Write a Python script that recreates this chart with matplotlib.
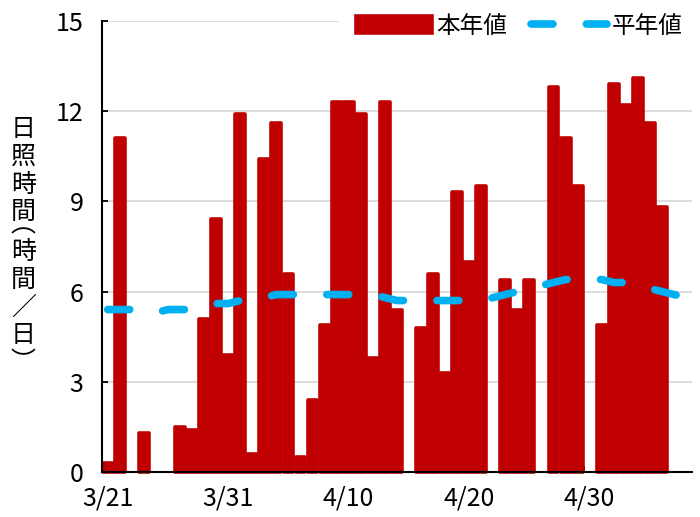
import numpy as np
import matplotlib
matplotlib.use("Agg")
import matplotlib.pyplot as plt
import matplotlib.transforms as mtransforms

plt.rcParams["font.family"] = ["Noto Sans CJK JP", "DejaVu Sans"]
plt.rcParams["lines.scale_dashes"] = False

# ── data (one value per day, starting 3/21) ───────────────────────────────────
sunshine = [0.3, 11.1, 0.0, 1.3, 0.0, 0.0, 1.5, 1.4, 5.1, 8.4,
            3.9, 11.9, 0.6, 10.4, 11.6, 6.6, 0.5, 2.4, 4.9, 12.3,
            12.3, 11.9, 3.8, 12.3, 5.4, 0.0, 4.8, 6.6, 3.3, 9.3,
            7.0, 9.5, 0.0, 6.4, 5.4, 6.4, 0.0, 12.8, 11.1, 9.5,
            0.0, 4.9, 12.9, 12.2, 13.1, 11.6, 8.8, np.nan, np.nan]
normal = [5.4, 5.4, 5.4, 5.4, 5.3, 5.4, 5.4, 5.4, 5.5, 5.6,
          5.6, 5.7, 5.8, 5.8, 5.9, 5.9, 5.9, 5.9, 5.9, 5.9,
          5.9, 5.9, 5.9, 5.8, 5.7, 5.7, 5.7, 5.7, 5.7, 5.7,
          5.7, 5.7, 5.8, 5.9, 6.0, 6.1, 6.2, 6.3, 6.4, 6.4,
          6.4, 6.4, 6.3, 6.3, 6.2, 6.1, 6.0, 5.9, 5.8]
tick_days = [0, 10, 20, 30, 40]
tick_labels = ["3/21", "3/31", "4/10", "4/20", "4/30"]
y_ticks = [0, 3, 6, 9, 12, 15]
ylabel_chars = ["日", "照", "時", "間", "︵", "時", "間", "／", "日", "︶"]

BAR_COLOR = "#C00000"
LINE_COLOR = "#00B0F0"

sun = np.array(sunshine, dtype=float)
days = np.arange(len(sun))
has_bar = np.nan_to_num(sun) > 0

fig = plt.figure(figsize=(7.0, 5.17), dpi=100)
ax = fig.add_axes([101.7 / 700, 1 - 471.7 / 517, 590.4 / 700, 450.4 / 517])

bars = ax.bar(days[has_bar] + 0.5, sun[has_bar], width=0.82,
              color=BAR_COLOR, edgecolor=BAR_COLOR, linewidth=2.6,
              joinstyle="round", zorder=3, clip_on=False, label="本年値")

line, = ax.plot(np.arange(len(normal)) + 0.5, normal, color=LINE_COLOR,
                linewidth=5.5, dashes=(15.8, 24.1), dash_capstyle="round",
                solid_capstyle="round", zorder=4, label="平年値")

ax.set_xlim(0, 49)
ax.set_ylim(0, 15)
ax.set_yticks(y_ticks)
ax.set_xticks(tick_days)
ax.set_xticklabels(tick_labels)
ax.grid(axis="y", color="#D9D9D9", linewidth=1.3, zorder=0)
ax.set_axisbelow(True)

for side in ("top", "right"):
    ax.spines[side].set_visible(False)
for side in ("left", "bottom"):
    ax.spines[side].set_linewidth(1.5)
    ax.spines[side].set_zorder(5)

ax.tick_params(axis="both", direction="in", length=4.5, width=1.3,
               labelsize=18, colors="black")
ax.tick_params(axis="y", pad=13)
ax.tick_params(axis="x", pad=10)

shift = mtransforms.ScaledTranslation(6 / 100, 0, fig.dpi_scale_trans)
for lbl in ax.get_xticklabels():
    lbl.set_transform(lbl.get_transform() + shift)

# vertical (stacked) y-axis title; vertical-form brackets sit off-centre in
# their em box, so nudge them towards the gap they belong to
cursor = 115.5
for ch in ylabel_chars:
    adv = 12.0 if ch in ("︵", "︶") else 27.7
    nudge = {"︵": -6.5, "︶": 7.0}.get(ch, 0.0)
    fig.text(23.3 / 700, 1 - (cursor + adv / 2 + nudge) / 517, ch,
             fontsize=18, ha="center", va="center")
    cursor += adv

leg = ax.legend(handles=[bars, line], loc="upper right",
                bbox_to_anchor=(700 / 700, 1 + 3 / 517),
                bbox_transform=fig.transFigure, ncol=2, fontsize=17,
                handlelength=3.2, handleheight=0.75, handletextpad=0.2,
                columnspacing=1.0, borderpad=0.75, borderaxespad=0.0,
                frameon=True, fancybox=False)
leg.get_frame().set_facecolor("white")
leg.get_frame().set_edgecolor("none")
leg.get_frame().set_alpha(1.0)

fig.savefig("out.png", dpi=100)
